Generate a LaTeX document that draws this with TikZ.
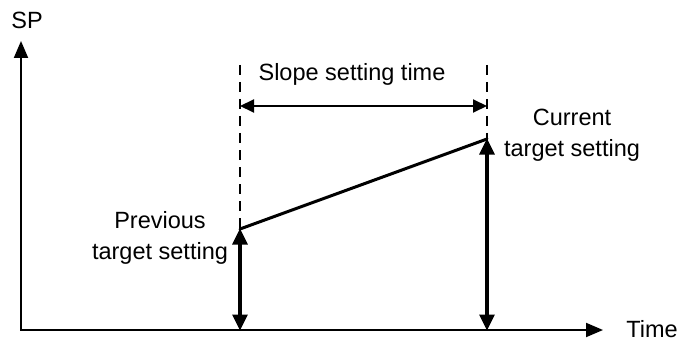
\documentclass[tikz,border=0pt]{standalone}
\usepackage{fontspec}
\setmainfont{Liberation Sans}
\usetikzlibrary{arrows.meta}
\begin{document}
\begin{tikzpicture}[x=1pt,y=-1pt,
  lbl/.style={font=\fontsize{23.5}{31}\selectfont, inner sep=0pt, align=center},
  axis/.style={line width=2pt, -{Triangle[length=17pt,width=14pt]}},
  level/.style={line width=3.2pt, {Triangle[length=16pt,width=15pt]}-{Triangle[length=16pt,width=15pt]}, shorten <=-0.5pt, shorten >=-0.5pt},
  span/.style={line width=2pt, {Triangle[length=14pt,width=13pt]}-{Triangle[length=14pt,width=13pt]}},
  guide/.style={line width=2.2pt, dash pattern=on 10pt off 7pt},
  ramp/.style={line width=3pt, line cap=round}]
\useasboundingbox (0,0) rectangle (677,342);
% coordinates
\coordinate (O) at (21,330);
\coordinate (Ytop) at (21,41);
\coordinate (Xend) at (603,330);
\coordinate (A0) at (240,330);
\coordinate (A1) at (240,229);
\coordinate (B0) at (487,330);
\coordinate (B1) at (487,139);
\coordinate (At) at (240,65);
\coordinate (Bt) at (487,65);
\coordinate (Sl) at (240,106);
\coordinate (Sr) at (487,106);
% axes
\draw[axis] (O) -- (Ytop);
\draw[axis] ([xshift=-1pt]O) -- (Xend);
% guides
\draw[guide] (At) -- (A1);
\draw[guide] (Bt) -- (B1);
% span arrow
\draw[span] (Sl) -- (Sr);
% ramp
\draw[ramp] (A1) -- (B1);
% level arrows
\draw[level] (A0) -- (A1);
\draw[level] (B0) -- (B1);
% labels
\node[lbl, anchor=base] (sp) at (27,29) {SP};
\node[lbl, anchor=base] (time) at (652,337) {Time};
\node[lbl, anchor=base] (slope) at (352,81) {Slope setting time};
\node[lbl] (prev) at (160,238) {Previous\\target setting};
\node[lbl] (cur) at (572,135.5) {Current\\target setting};
\end{tikzpicture}
\end{document}
